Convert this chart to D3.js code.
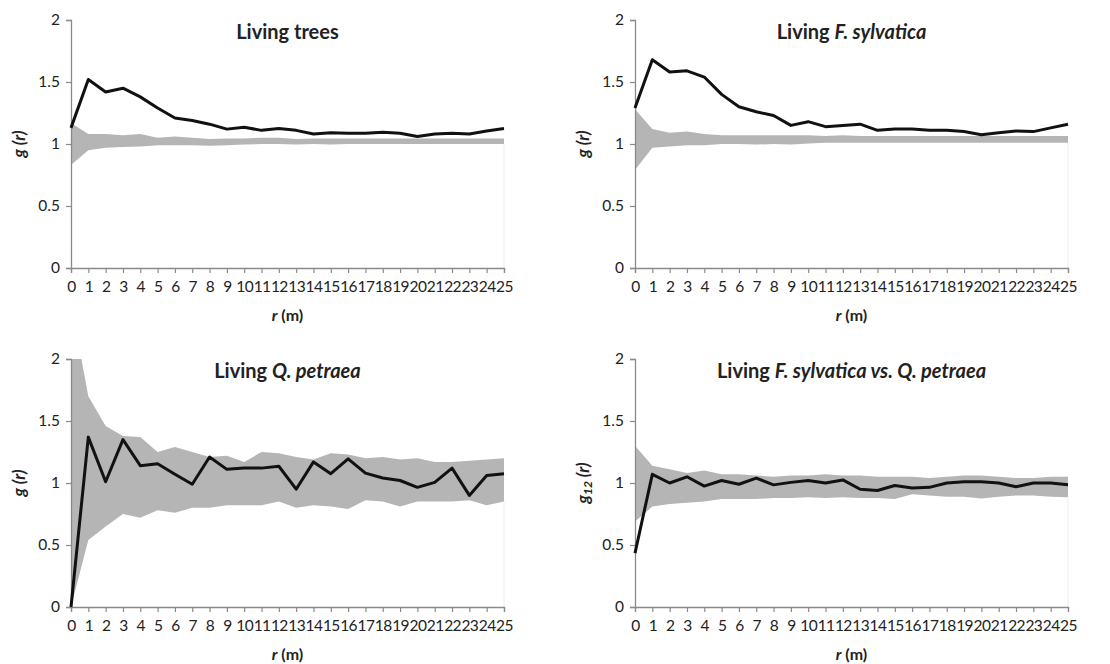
<!DOCTYPE html>
<html>
<head>
<meta charset="utf-8">
<script src="https://cdn.jsdelivr.net/npm/d3@7"></script>
<style>
  body { margin: 0; background: #fff; }
  text { font-family: Lato, "Open Sans", sans-serif; fill: #222; }
</style>
</head>
<body>
<svg id="chart" width="1110" height="664"></svg>
<script>
// distance classes r (m)
var rValues = [0,1,2,3,4,5,6,7,8,9,10,11,12,13,14,15,16,17,18,19,20,21,22,23,24,25];
var yTicks = [0, 0.5, 1, 1.5, 2];

// living trees
var treesG  = [1.13,1.52,1.42,1.45,1.38,1.29,1.21,1.19,1.16,1.12,1.135,1.11,1.125,1.11,1.08,1.09,1.087,1.087,1.095,1.087,1.06,1.08,1.087,1.08,1.105,1.125];
var treesHi = [1.17,1.08,1.08,1.07,1.08,1.05,1.06,1.05,1.04,1.045,1.045,1.05,1.05,1.04,1.045,1.045,1.045,1.045,1.045,1.045,1.045,1.045,1.045,1.045,1.045,1.045];
var treesLo = [0.83,0.95,0.97,0.975,0.98,0.99,0.99,0.99,0.985,0.99,0.995,1.0,1.0,0.995,1.0,0.995,1.0,1.0,1.0,1.0,1.0,1.0,1.0,1.0,1.0,1.0];

// living F. sylvatica
var fagusG  = [1.29,1.68,1.58,1.59,1.54,1.40,1.30,1.26,1.23,1.15,1.18,1.14,1.15,1.16,1.11,1.12,1.12,1.11,1.11,1.10,1.075,1.09,1.105,1.10,1.13,1.16];
var fagusHi = [1.28,1.12,1.09,1.10,1.08,1.07,1.07,1.07,1.07,1.07,1.07,1.065,1.07,1.065,1.065,1.065,1.065,1.065,1.065,1.065,1.065,1.065,1.065,1.065,1.065,1.065];
var fagusLo = [0.79,0.97,0.98,0.99,0.99,1.0,1.0,0.995,1.0,0.995,1.005,1.01,1.01,1.01,1.01,1.01,1.01,1.01,1.01,1.01,1.01,1.01,1.01,1.01,1.01,1.01];

// living Q. petraea
var quercusG  = [0,1.37,1.01,1.35,1.14,1.155,1.07,0.99,1.21,1.11,1.12,1.12,1.135,0.95,1.17,1.075,1.195,1.08,1.04,1.02,0.965,1.005,1.12,0.90,1.06,1.075];
var quercusHi = [2.45,1.70,1.46,1.38,1.37,1.25,1.29,1.25,1.21,1.22,1.17,1.25,1.24,1.21,1.19,1.24,1.23,1.20,1.21,1.19,1.20,1.17,1.17,1.18,1.19,1.20];
var quercusLo = [0,0.54,0.65,0.75,0.72,0.78,0.76,0.80,0.80,0.82,0.82,0.82,0.85,0.80,0.82,0.81,0.79,0.86,0.85,0.81,0.85,0.85,0.85,0.86,0.82,0.85];

// F. sylvatica vs. Q. petraea
var crossG  = [0.435,1.07,1.0,1.05,0.975,1.02,0.99,1.04,0.985,1.005,1.02,1.0,1.025,0.95,0.94,0.98,0.96,0.965,1.0,1.01,1.01,1.0,0.97,1.0,1.0,0.985];
var crossHi = [1.30,1.14,1.11,1.08,1.10,1.07,1.07,1.06,1.05,1.06,1.06,1.07,1.06,1.06,1.05,1.05,1.05,1.04,1.05,1.06,1.06,1.05,1.04,1.04,1.05,1.05];
var crossLo = [0.69,0.81,0.83,0.84,0.85,0.87,0.87,0.87,0.88,0.88,0.885,0.88,0.885,0.88,0.88,0.87,0.91,0.90,0.89,0.89,0.875,0.89,0.90,0.90,0.89,0.885];

var svg = d3.select("#chart");

function panel(id, left, top, title, g, hi, lo, ylab) {
  var w = 433, h = 248;
  var x = d3.scaleLinear().domain([0, 25]).range([0, w]);
  var y = d3.scaleLinear().domain([0, 2]).range([h, 0]);
  var p = svg.append("g").attr("transform", "translate(" + left + "," + top + ")");

  p.append("clipPath").attr("id", "clip" + id)
    .append("rect").attr("width", w).attr("height", h);

  var area = d3.area()
    .x(function(d, i) { return x(rValues[i]); })
    .y0(function(d, i) { return y(lo[i]); })
    .y1(function(d, i) { return y(hi[i]); });
  p.append("path").datum(hi)
    .attr("clip-path", "url(#clip" + id + ")")
    .attr("d", area)
    .attr("fill", "#b5b5b5");

  // faint edge left by the chart at r = 25
  p.append("line")
    .attr("x1", x(25)).attr("x2", x(25))
    .attr("y1", y(lo[25])).attr("y2", y(0))
    .attr("stroke", "#ebebeb").attr("stroke-width", 1);

  var yAxis = p.append("g")
    .call(d3.axisLeft(y).tickValues(yTicks).tickSize(5).tickPadding(6).tickFormat(d3.format("")));
  var xAxis = p.append("g").attr("transform", "translate(0," + h + ")")
    .call(d3.axisBottom(x).tickValues(rValues).tickSize(5).tickPadding(8).tickFormat(d3.format("d")));
  [yAxis, xAxis].forEach(function(a) {
    a.select(".domain").attr("stroke", "#8a8a8a").attr("stroke-width", 1.3);
    a.selectAll(".tick line").attr("stroke", "#8a8a8a").attr("stroke-width", 1.2);
    a.selectAll(".tick text").attr("font-size", "15.5px").attr("font-family", "Lato, sans-serif").attr("fill", "#1a1a1a");
  });
  xAxis.selectAll(".tick text").attr("letter-spacing", "-0.6px");

  var line = d3.line()
    .x(function(d, i) { return x(rValues[i]); })
    .y(function(d) { return y(d); });
  p.append("path").datum(g)
    .attr("d", line)
    .attr("fill", "none")
    .attr("stroke", "#111")
    .attr("stroke-width", 3)
    .attr("stroke-linejoin", "round");

  // title
  var t = p.append("text").attr("x", w / 2).attr("y", 19)
    .attr("text-anchor", "middle").attr("font-size", "20px").attr("font-weight", "bold");
  title.forEach(function(s) {
    t.append("tspan").attr("font-style", s[1] ? "italic" : "normal").text(s[0]);
  });

  // x label
  var xl = p.append("text").attr("x", w / 2).attr("y", h + 53)
    .attr("text-anchor", "middle").attr("font-size", "16px").attr("font-weight", "bold");
  xl.append("tspan").attr("font-style", "italic").text("r");
  xl.append("tspan").text(" (m)");

  // y label
  var yl = p.append("text")
    .attr("transform", "translate(" + (-46) + "," + (h / 2) + ") rotate(-90)")
    .attr("text-anchor", "middle").attr("font-size", "17px").attr("font-weight", "bold").attr("font-style", "italic");
  yl.append("tspan").text("g");
  if (ylab) {
    yl.append("tspan").attr("font-size", "12px").attr("dy", 3).text("12");
    yl.append("tspan").attr("dy", -3).text(" (r)");
  } else {
    yl.append("tspan").text(" (r)");
  }
}

panel(1, 71, 20, [["Living trees", false]], treesG, treesHi, treesLo, false);
panel(2, 635, 20, [["Living ", false], ["F. sylvatica", true]], fagusG, fagusHi, fagusLo, false);
panel(3, 71, 359, [["Living ", false], ["Q. petraea", true]], quercusG, quercusHi, quercusLo, false);
panel(4, 635, 359, [["Living ", false], ["F. sylvatica vs. Q. petraea", true]], crossG, crossHi, crossLo, true);
</script>
</body>
</html>
